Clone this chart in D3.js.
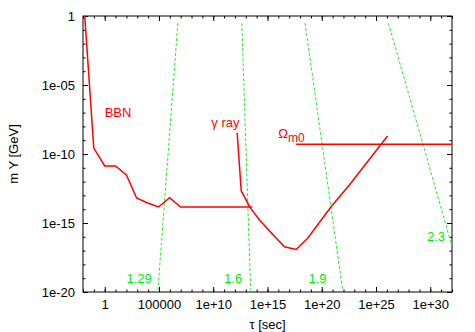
<!DOCTYPE html>
<html>
<head>
<meta charset="utf-8">
<script src="https://cdn.jsdelivr.net/npm/d3@7"></script>
<style>
  body { margin: 0; background: #fff; }
  text { font-family: "Liberation Sans", Arial, sans-serif; }
</style>
</head>
<body>
<svg id="chart" width="475" height="332"></svg>
<script>
// tick values and labels (gnuplot style)
var xTicks = [1, 1e5, 1e10, 1e15, 1e20, 1e25, 1e30];
var xTickLabels = ["1", "100000", "1e+10", "1e+15", "1e+20", "1e+25", "1e+30"];
var yTicks = [1, 1e-5, 1e-10, 1e-15, 1e-20];
var yTickLabels = ["1", "1e-05", "1e-10", "1e-15", "1e-20"];

// BBN bound
var bbnTau  = [1.45e-2, 9.8e-2, 1, 1e1, 1e2, 8.7e2, 9e3, 9.3e4, 9.5e5, 9.8e6, 4e13];
var bbnMass = [1, 2.7e-10, 1.35e-11, 1.35e-11, 3e-12, 6.5e-14, 2.8e-14, 1.45e-14, 6.8e-14, 1.45e-14, 1.45e-14];

// gamma ray bound
var gammaTau  = [1.6e12, 3.8e12, 2.7e13, 2.2e14, 1.9e15, 3.6e16, 4.4e17, 5e18, 7.2e20, 3.5e22, 1.15e26];
var gammaMass = [3.5e-9, 2.1e-13, 1.2e-14, 1.4e-15, 2.2e-16, 1.9e-17, 1.2e-17, 7.8e-17, 1.5e-14, 5.6e-13, 2e-9];

// Omega_m0 bound
var omegaTau  = [4.4e17, 1e32];
var omegaMass = [5e-10, 5e-10];

// green dashed lines
var slopeNames      = ["1.29", "1.6", "1.9", "2.3"];
var slopeTauTop     = [5.5e6, 4.3e12, 2.9e18, 1.4e26];
var slopeTauBottom  = [8e4, 2.8e13, 8.3e21, 1.4e33];
var slopeMassTop    = [0.3, 0.3, 0.3, 0.3];
var slopeMassBottom = [1.4e-20, 1.4e-20, 1.4e-20, 1.4e-20];
var slopeLabelTau   = [100, 1e11, 6e18, 5e29];
var slopeLabelMass  = [1e-19, 1e-19, 1e-19, 1e-16];

// curve labels
var curveLabelTau  = [1, 6.6e9, 1e16];
var curveLabelMass = [1e-7, 2e-8, 3e-9];

var width = 475, height = 332;
var margin = { top: 16, right: 23, bottom: 40, left: 83 };
var svg = d3.select("#chart");

var x = d3.scaleLog().domain([1e-2, 1e32]).range([margin.left, width - margin.right]);
var y = d3.scaleLog().domain([1e-20, 1]).range([height - margin.bottom, margin.top]);

var minorX = d3.range(-2, 33).map(function (k) { return Math.pow(10, k); });
var minorY = d3.range(-20, 1).map(function (k) { return Math.pow(10, k); });

function styleAxis(g) {
    g.select(".domain").remove();
    g.attr("font-family", null).attr("font-size", 13);
    g.selectAll("text").attr("fill", "#000");
    g.selectAll("line").attr("stroke", "#000");
}

var x0 = height - margin.bottom, x1 = margin.top;
var yLeft = margin.left, yRight = width - margin.right;

// bottom
svg.append("g").attr("transform", "translate(0," + x0 + ")")
    .call(d3.axisBottom(x).tickValues(minorX).tickSize(-2.5).tickFormat("")).call(styleAxis);
svg.append("g").attr("transform", "translate(0," + x0 + ")")
    .call(d3.axisBottom(x).tickValues(xTicks).tickSize(-5).tickPadding(8)
        .tickFormat(function (d, i) { return xTickLabels[i]; })).call(styleAxis);
// top mirror
svg.append("g").attr("transform", "translate(0," + x1 + ")")
    .call(d3.axisTop(x).tickValues(minorX).tickSize(-2.5).tickFormat("")).call(styleAxis);
svg.append("g").attr("transform", "translate(0," + x1 + ")")
    .call(d3.axisTop(x).tickValues(xTicks).tickSize(-5).tickFormat("")).call(styleAxis);
// left
svg.append("g").attr("transform", "translate(" + yLeft + ",0)")
    .call(d3.axisLeft(y).tickValues(minorY).tickSize(-2.5).tickFormat("")).call(styleAxis);
svg.append("g").attr("transform", "translate(" + yLeft + ",0)")
    .call(d3.axisLeft(y).tickValues(yTicks).tickSize(-5).tickPadding(8)
        .tickFormat(function (d, i) { return yTickLabels[i]; })).call(styleAxis);
// right mirror
svg.append("g").attr("transform", "translate(" + yRight + ",0)")
    .call(d3.axisRight(y).tickValues(minorY).tickSize(-2.5).tickFormat("")).call(styleAxis);
svg.append("g").attr("transform", "translate(" + yRight + ",0)")
    .call(d3.axisRight(y).tickValues(yTicks).tickSize(-5).tickFormat("")).call(styleAxis);

// frame
svg.append("rect")
    .attr("x", yLeft).attr("y", x1)
    .attr("width", yRight - yLeft).attr("height", x0 - x1)
    .attr("fill", "none").attr("stroke", "#000");

// clip
svg.append("clipPath").attr("id", "plotclip").append("rect")
    .attr("x", yLeft).attr("y", x1)
    .attr("width", yRight - yLeft).attr("height", x0 - x1);

var plot = svg.append("g").attr("clip-path", "url(#plotclip)");

var line = d3.line()
    .x(function (d) { return x(d[0]); })
    .y(function (d) { return y(d[1]); });

// green dashed
var slopes = slopeNames.map(function (n, i) {
    return [[slopeTauTop[i], slopeMassTop[i]], [slopeTauBottom[i], slopeMassBottom[i]]];
});
plot.selectAll("path.slope")
    .data(slopes)
    .enter()
    .append("path")
    .attr("class", "slope")
    .attr("d", line)
    .attr("fill", "none")
    .attr("stroke", "#22ee22")
    .attr("stroke-width", 1)
    .attr("stroke-dasharray", "3,2");

// red curves
[d3.zip(bbnTau, bbnMass), d3.zip(gammaTau, gammaMass), d3.zip(omegaTau, omegaMass)].forEach(function (pts) {
    plot.append("path")
        .attr("d", line(pts))
        .attr("fill", "none")
        .attr("stroke", "#ff0000")
        .attr("stroke-width", 1.5);
});

// labels
svg.selectAll("text.slopeLabel")
    .data(slopeNames)
    .enter()
    .append("text")
    .attr("class", "slopeLabel")
    .attr("x", function (d, i) { return x(slopeLabelTau[i]); })
    .attr("y", function (d, i) { return y(slopeLabelMass[i]); })
    .attr("dy", "0.35em")
    .attr("font-size", 13)
    .attr("fill", "#00ee00")
    .text(function (d) { return d; });

var redLabels = svg.append("g").attr("fill", "#ff0000").attr("font-size", 13);
redLabels.append("text")
    .attr("x", x(curveLabelTau[0])).attr("y", y(curveLabelMass[0])).attr("dy", "0.35em")
    .text("BBN");
redLabels.append("text")
    .attr("x", x(curveLabelTau[1])).attr("y", y(curveLabelMass[1])).attr("dy", "0.35em")
    .text("γ ray");
var om = redLabels.append("text")
    .attr("x", x(curveLabelTau[2])).attr("y", y(curveLabelMass[2])).attr("dy", "0.35em");
om.append("tspan").text("Ω");
om.append("tspan").attr("dy", 4).attr("font-size", 12).text("m0");

// axis titles
svg.append("text")
    .attr("x", (yLeft + yRight) / 2).attr("y", 329)
    .attr("text-anchor", "middle").attr("font-size", 13)
    .text("τ [sec]");
svg.append("text")
    .attr("transform", "translate(18," + ((x0 + x1) / 2) + ") rotate(-90)")
    .attr("text-anchor", "middle").attr("font-size", 13)
    .text("m Y [GeV]");
</script>
</body>
</html>
